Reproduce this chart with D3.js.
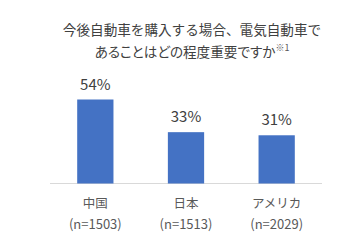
<!DOCTYPE html>
<html>
<head>
<meta charset="utf-8">
<script src="https://cdn.jsdelivr.net/npm/d3@7"></script>
<style>
  body { margin: 0; background: #fff; }
  svg text { font-family: "Noto Sans CJK JP", "Noto Sans", sans-serif; }
</style>
</head>
<body>
<div id="chart"></div>
<script>
// data
const categories = ["中国", "日本", "アメリカ"];
const sampleSizes = ["(n=1503)", "(n=1513)", "(n=2029)"];
const values = [54, 33, 31];
const titleLines = ["今後自動車を購入する場合、電気自動車で", "あることはどの程度重要ですか"];

const width = 338;
const height = 250;
const margin = { left: 50, right: 16, baseline: 183.5 };

const svg = d3.select("#chart")
  .append("svg")
  .attr("width", width)
  .attr("height", height);

// title
svg.append("text")
  .attr("x", 192)
  .attr("y", 35)
  .attr("text-anchor", "middle")
  .style("font-size", "13.6px")
  .style("fill", "#404040")
  .text(titleLines[0]);

const t2 = svg.append("text")
  .attr("x", 192)
  .attr("y", 57)
  .attr("text-anchor", "middle")
  .style("font-size", "13.6px")
  .style("fill", "#404040")
  .style("font-feature-settings", "'palt'");
t2.append("tspan").text(titleLines[1]);
t2.append("tspan")
  .attr("dy", -6)
  .style("font-size", "9px")
  .style("fill", "#595959")
  .text("※1");

// scales
const x = d3.scaleBand()
  .domain(categories)
  .range([margin.left, width - margin.right])
  .paddingInner(0.6)
  .paddingOuter(0.3);

const y = d3.scaleLinear()
  .domain([0, 54])
  .range([margin.baseline, 99.5]);

// baseline
svg.append("line")
  .attr("x1", margin.left)
  .attr("x2", width - margin.right)
  .attr("y1", margin.baseline)
  .attr("y2", margin.baseline)
  .attr("stroke", "#d9d9d9")
  .attr("stroke-width", 1);

// bars
svg.selectAll("rect.bar")
  .data(values)
  .enter()
  .append("rect")
  .attr("class", "bar")
  .attr("x", (d, i) => x(categories[i]))
  .attr("y", d => y(d))
  .attr("width", x.bandwidth())
  .attr("height", d => y(0) - y(d))
  .attr("fill", "#4472C4");

// value labels
svg.selectAll("text.val")
  .data(values)
  .enter()
  .append("text")
  .attr("class", "val")
  .attr("x", (d, i) => x(categories[i]) + x.bandwidth() / 2)
  .attr("y", d => y(d) - 10)
  .attr("text-anchor", "middle")
  .style("font-size", "15px")
  .style("fill", "#404040")
  .text(d => d + "%");

// category labels
categories.forEach((c, i) => {
  const cx = x(c) + x.bandwidth() / 2;
  svg.append("text")
    .attr("x", cx)
    .attr("y", 208)
    .attr("text-anchor", "middle")
    .style("font-size", "12.5px")
    .style("fill", "#595959")
    .text(c);
  svg.append("text")
    .attr("x", cx)
    .attr("y", 229)
    .attr("text-anchor", "middle")
    .style("font-size", "13px")
    .style("fill", "#595959")
    .text(sampleSizes[i]);
});
</script>
</body>
</html>
